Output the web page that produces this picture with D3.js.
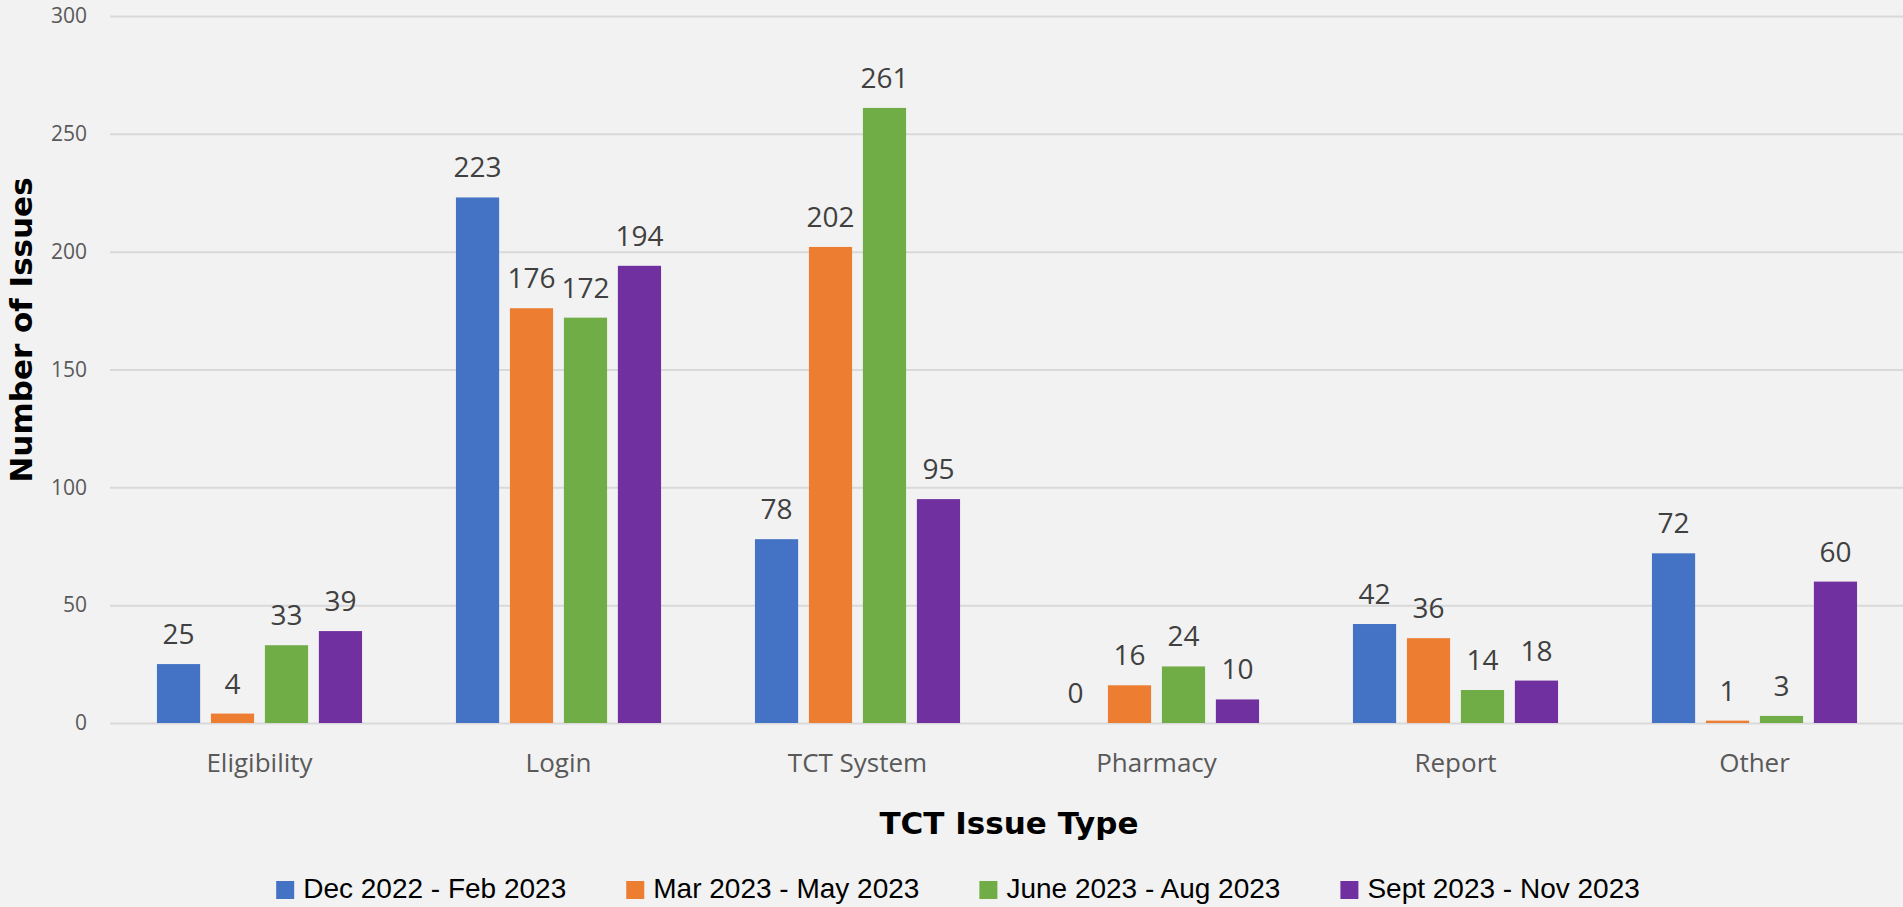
<html>
<head>
<meta charset="utf-8">
<script src="https://d3js.org/d3.v7.min.js"></script>
<style>
  body { margin: 0; background: #f2f2f2; }
</style>
</head>
<body>
<div id="my_dataviz"></div>
<script>
    // chart data
    const categories = ["Eligibility", "Login", "TCT System", "Pharmacy", "Report", "Other"]
    const seriesNames = ["Dec 2022 - Feb 2023", "Mar 2023 - May 2023", "June 2023 - Aug 2023", "Sept 2023 - Nov 2023"]
    const decFeb = [25, 223, 78, 0, 42, 72]
    const marMay = [4, 176, 202, 16, 36, 1]
    const junAug = [33, 172, 261, 24, 14, 3]
    const sepNov = [39, 194, 95, 10, 18, 60]
    const yTicks = [0, 50, 100, 150, 200, 250, 300]
    const colors = ["#4472c4", "#ed7d31", "#70ad47", "#7030a0"]

    const allSeries = [decFeb, marMay, junAug, sepNov]

    // plot area (note: "top" is reserved on window, so use plot* names)
    var width = 1903, height = 907
    var plotLeft = 110, plotRight = 1904, plotTop = 16, plotBottom = 723

    var svg = d3.select("#my_dataviz").append("svg")
        .attr("width", width)
        .attr("height", height)
        .style("display", "block")

    svg.append("rect").attr("width", width).attr("height", height).attr("fill", "#f2f2f2")

    var x0 = d3.scaleBand()
        .domain(categories)
        .range([plotLeft, plotRight])
        .paddingInner(0.314)
        .paddingOuter(0.157)

    var x1 = d3.scaleBand()
        .domain(seriesNames)
        .range([0, x0.bandwidth()])
        .paddingInner(0.2)

    var y = d3.scaleLinear()
        .domain([0, 300])
        .range([plotBottom, plotTop])

    // gridlines + tick labels
    var yAxis = svg.append("g")
        .attr("transform", "translate(" + plotLeft + ",0)")
        .call(d3.axisLeft(y).tickValues(yTicks).tickSize(-(plotRight - plotLeft)).tickPadding(23))
    yAxis.select(".domain").remove()
    yAxis.selectAll("line").attr("stroke", "#d9d9d9").attr("stroke-width", 2)
    yAxis.selectAll("text")
        .attr("fill", "#595959")
        .style("font-family", "'Open Sans', 'Noto Sans', sans-serif")
        .style("font-size", "21px")

    // bars
    var groups = svg.append("g").selectAll("g")
        .data(categories)
        .enter().append("g")
        .attr("transform", function (d) { return "translate(" + x0(d) + ",0)" })

    var cells = groups.selectAll("g")
        .data(function (d, i) { return seriesNames.map(function (s, j) { return { series: s, idx: j, value: allSeries[j][i] } }) })
        .enter().append("g")

    cells.append("rect")
        .attr("x", function (d) { return x1(d.series) })
        .attr("y", function (d) { return y(d.value) })
        .attr("width", x1.bandwidth())
        .attr("height", function (d) { return plotBottom - y(d.value) })
        .attr("fill", function (d) { return colors[d.idx] })

    cells.append("text")
        .attr("x", function (d) { return x1(d.series) + x1.bandwidth() / 2 })
        .attr("y", function (d) { return y(d.value) - 20 })
        .attr("text-anchor", "middle")
        .attr("fill", "#404040")
        .style("font-family", "'Open Sans', 'Noto Sans', sans-serif")
        .style("font-size", "28px")
        .text(function (d) { return d.value })

    // category labels
    var xAxis = svg.append("g")
        .attr("transform", "translate(0," + plotBottom + ")")
        .call(d3.axisBottom(x0).tickSize(0).tickPadding(31))
    xAxis.select(".domain").remove()
    xAxis.selectAll("text")
        .attr("fill", "#595959")
        .style("font-family", "'Open Sans', 'Noto Sans', sans-serif")
        .style("font-size", "26px")

    // axis titles
    svg.append("text")
        .attr("x", 1009)
        .attr("y", 834)
        .attr("text-anchor", "middle")
        .style("font-family", "'DejaVu Sans', Verdana, sans-serif")
        .style("font-weight", "bold")
        .style("font-size", "31px")
        .text("TCT Issue Type")

    svg.append("text")
        .attr("transform", "translate(32,330) rotate(-90)")
        .attr("text-anchor", "middle")
        .style("font-family", "'DejaVu Sans', Verdana, sans-serif")
        .style("font-weight", "bold")
        .style("font-size", "31px")
        .text("Number of Issues")

    // legend
    var legend = svg.append("g")
    var items = legend.selectAll("g")
        .data(seriesNames)
        .enter().append("g")
    items.append("rect")
        .attr("y", 881)
        .attr("width", 18)
        .attr("height", 18)
        .attr("fill", function (d, i) { return colors[i] })
    items.append("text")
        .attr("x", 27)
        .attr("y", 898)
        .style("font-family", "'Liberation Sans', Arial, sans-serif")
        .style("font-size", "28px")
        .text(function (d) { return d })

    var pos = 0, offsets = []
    items.each(function () {
        offsets.push(pos)
        pos += 27 + d3.select(this).select("text").node().getComputedTextLength() + 60
    })
    var total = pos - 60
    var startX = 958 - total / 2
    items.attr("transform", function (d, i) { return "translate(" + (startX + offsets[i]) + ",0)" })
</script>
</body>
</html>
